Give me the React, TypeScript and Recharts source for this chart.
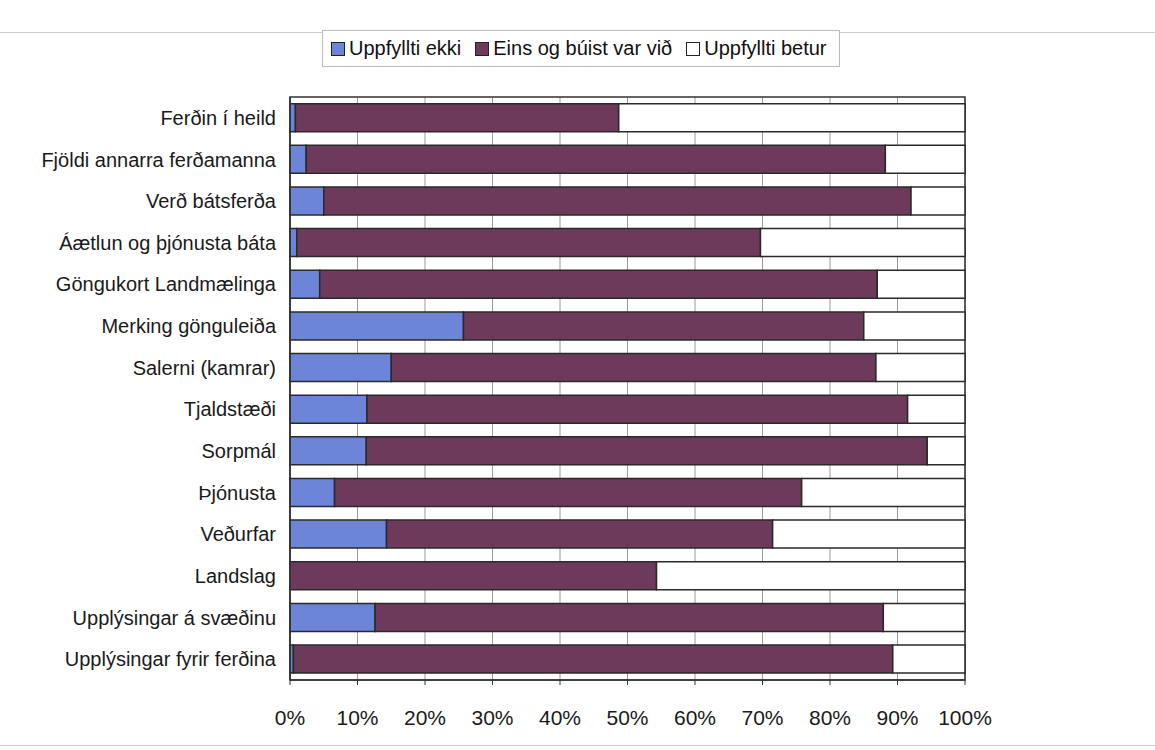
import React from "react"
import {
  BarChart,
  Bar,
  XAxis,
  YAxis,
  CartesianGrid,
  ReferenceArea,
} from "recharts"

// Survey categories, top to bottom
const categories = [
  "Ferðin í heild",
  "Fjöldi annarra ferðamanna",
  "Verð bátsferða",
  "Áætlun og þjónusta báta",
  "Göngukort Landmælinga",
  "Merking gönguleiða",
  "Salerni (kamrar)",
  "Tjaldstæði",
  "Sorpmál",
  "Þjónusta",
  "Veðurfar",
  "Landslag",
  "Upplýsingar á svæðinu",
  "Upplýsingar fyrir ferðina",
]

// Share of answers (%) per category
const uppfylltiEkki = [0.8, 2.4, 5, 1, 4.4, 25.7, 15, 11.4, 11.3, 6.6, 14.3, 0, 12.6, 0.5]
const einsOgBuist = [47.9, 85.8, 87, 68.7, 82.6, 59.3, 71.8, 80.1, 83.1, 69.2, 57.2, 54.3, 75.3, 88.8]
const uppfylltiBetur = [51.3, 11.8, 8, 30.3, 13, 15, 13.2, 8.5, 5.6, 24.2, 28.5, 45.7, 12.1, 10.7]

const xTicks = [0, 10, 20, 30, 40, 50, 60, 70, 80, 90, 100]

const seriesNames = ["Uppfyllti ekki", "Eins og búist var við", "Uppfyllti betur"]
const seriesColors = ["#6c85d8", "#6d3a5b", "#ffffff"]

const FONT = "'Liberation Sans', Arial, sans-serif"

const data = categories.map((name, i) => ({
  name,
  ekki: uppfylltiEkki[i],
  eins: einsOgBuist[i],
  betur: uppfylltiBetur[i],
}))

function LegendBox() {
  return (
    <div
      style={{
        position: "absolute",
        left: 322,
        top: 30,
        display: "flex",
        alignItems: "center",
        gap: 14,
        border: "1px solid #bbb",
        padding: "0 12px 0 8px",
        height: 37,
        boxSizing: "border-box",
        background: "#fff",
        fontFamily: FONT,
        fontSize: 20,
        color: "#111",
      }}
    >
      {seriesNames.map((n, i) => (
        <span key={n} style={{ display: "inline-flex", alignItems: "center", gap: 4 }}>
          <span
            style={{
              display: "inline-block",
              width: 12,
              height: 12,
              background: seriesColors[i],
              border: "1.5px solid #222",
            }}
          />
          {n}
        </span>
      ))}
    </div>
  )
}

export default function App() {
  return (
    <div
      style={{
        position: "absolute",
        left: 0,
        top: 0,
        width: 1155,
        height: 750,
        background: "#fff",
      }}
    >
      <div
        style={{
          position: "absolute",
          left: 0,
          top: 32,
          width: 1155,
          height: 712,
          borderTop: "1px solid #ccc",
          borderBottom: "1px solid #ccc",
        }}
      />
      <BarChart
        width={1155}
        height={750}
        data={data}
        layout="vertical"
        barCategoryGap="16%"
        margin={{ top: 97, right: 190, bottom: 30, left: 0 }}
      >
        <CartesianGrid horizontal={false} stroke="#9a9a9a" strokeWidth={1} />
        <XAxis
          type="number"
          domain={[0, 100]}
          ticks={xTicks}
          tickFormatter={(v) => `${v}%`}
          height={40}
          axisLine={{ stroke: "#333", strokeWidth: 1.5 }}
          tickLine={{ stroke: "#333" }}
          tickSize={5}
          tick={{ fontFamily: FONT, fontSize: 21, fill: "#1a1a1a", dy: 23 }}
        />
        <YAxis
          type="category"
          dataKey="name"
          width={290}
          axisLine={{ stroke: "#333", strokeWidth: 1.5 }}
          tickLine={false}
          tickSize={12}
          tick={{ fontFamily: FONT, fontSize: 20, fill: "#1a1a1a" }}
          interval={0}
        />
        <ReferenceArea x1={0} x2={100} fill="none" stroke="#333" strokeWidth={1.5} />
        <Bar
          dataKey="ekki"
          name={seriesNames[0]}
          stackId="a"
          fill={seriesColors[0]}
          stroke="#2a2a2a"
          strokeWidth={1.5}
          isAnimationActive={false}
        />
        <Bar
          dataKey="eins"
          name={seriesNames[1]}
          stackId="a"
          fill={seriesColors[1]}
          stroke="#2a2a2a"
          strokeWidth={1.5}
          isAnimationActive={false}
        />
        <Bar
          dataKey="betur"
          name={seriesNames[2]}
          stackId="a"
          fill={seriesColors[2]}
          stroke="#2a2a2a"
          strokeWidth={1.5}
          isAnimationActive={false}
        />
      </BarChart>
      <LegendBox />
    </div>
  )
}
